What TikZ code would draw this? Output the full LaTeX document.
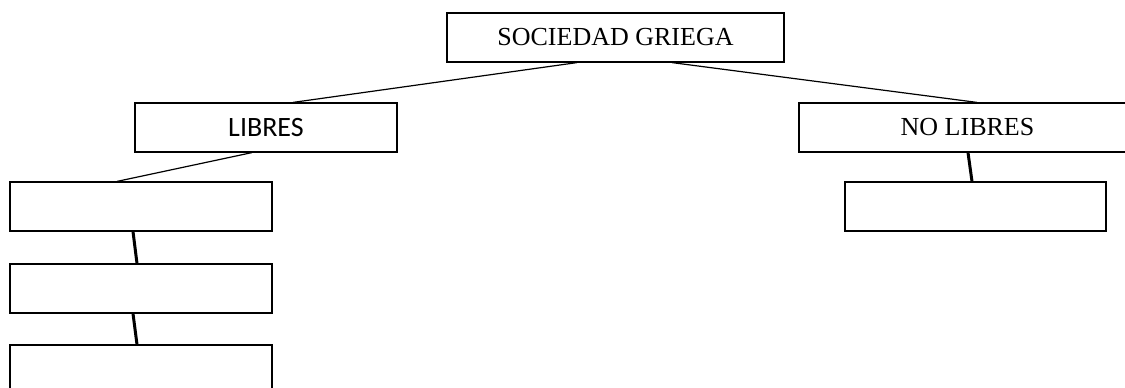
\documentclass[tikz,border=0pt]{standalone}
\usepackage{fontspec}
\setmainfont{Liberation Serif}
\newfontfamily\calibri{Carlito}

\tikzset{
	caja/.style={draw, black, line width=1.2pt, minimum width=262pt, minimum height=49pt, inner sep=0pt, font=\fontsize{26}{30}\selectfont},
	cajaancha/.style={caja, minimum width=337pt},
	fino/.style={black, line width=1.2pt},
	grueso/.style={black, line width=3pt}
}

\begin{document}
\begin{tikzpicture}[x=1pt, y=-1pt]

	%%% Page
	\clip (0,0) rectangle (1125,388);
	\fill[white] (0,0) rectangle (1125,388);

	%%% Boxes
	\node[cajaancha] (sociedad) at (615.5,37.5) {SOCIEDAD GRIEGA};
	\node[caja, font=\calibri\fontsize{28}{32}\selectfont] (libres) at (266,127.5) {LIBRES};
	\node[cajaancha] (nolibres) at (967.5,127.5) {NO LIBRES};

	\node[caja] (libres_a) at (141,206.5) {};
	\node[caja] (libres_b) at (141,288.5) {};
	\node[caja] (libres_c) at (141,369.5) {};

	\node[caja, minimum width=261pt] (nolibres_a) at (975.5,206.5) {};

	%%% Connectors
	\draw[fino] ([xshift=-38.5pt]sociedad.south) -- ([xshift=27pt]libres.north);
	\draw[fino] ([xshift=56.5pt]sociedad.south) -- ([xshift=9.5pt]nolibres.north);
	\draw[fino] ([xshift=-14pt]libres.south) -- ([xshift=-24pt]libres_a.north);

	\draw[grueso] ([xshift=-8pt]libres_a.south) -- ([xshift=-4pt]libres_b.north);
	\draw[grueso] ([xshift=-8pt]libres_b.south) -- ([xshift=-4pt]libres_c.north);
	\draw[grueso] ([xshift=0.5pt]nolibres.south) -- ([xshift=-3.5pt]nolibres_a.north);

\end{tikzpicture}
\end{document}
